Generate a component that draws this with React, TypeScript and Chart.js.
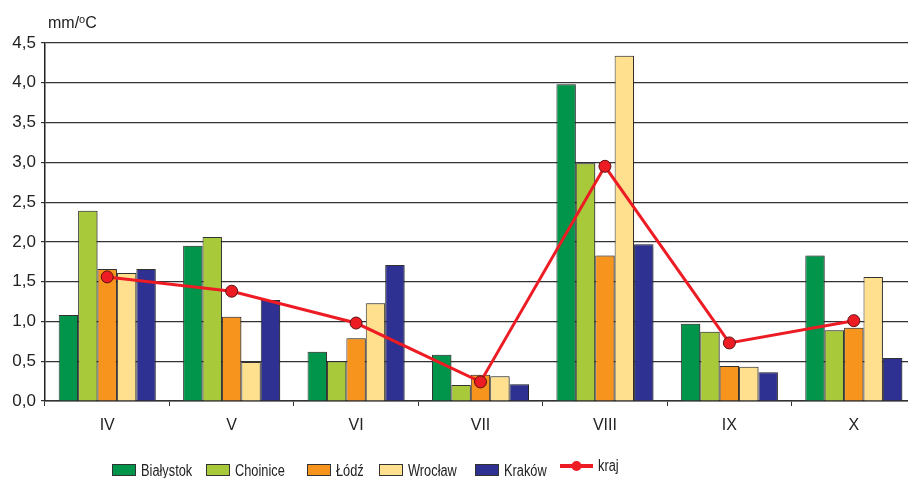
import React, { useEffect, useRef } from "react";
import { Chart, registerables } from "chart.js";

Chart.register(...registerables);

const months = ["IV", "V", "VI", "VII", "VIII", "IX", "X"];
const bialystok = [1.08, 1.95, 0.62, 0.58, 3.98, 0.97, 1.83];
const choinice = [2.39, 2.06, 0.5, 0.2, 2.99, 0.87, 0.89];
const lodz = [1.66, 1.06, 0.79, 0.33, 1.83, 0.44, 0.92];
const wroclaw = [1.61, 0.49, 1.23, 0.31, 4.34, 0.43, 1.56];
const krakow = [1.66, 1.27, 1.71, 0.21, 1.97, 0.36, 0.54];
const kraj = [1.56, 1.38, 0.98, 0.24, 2.95, 0.73, 1.01];
const seriesNames = ["Białystok", "Choinice", "Łódź", "Wrocław", "Kraków", "kraj"];
const yTicks = [0, 0.5, 1, 1.5, 2, 2.5, 3, 3.5, 4, 4.5];

const colors = ["#00954A", "#A8C93A", "#F7941D", "#FFE08F", "#2E3191", "#ED1C24"];

const legendX = [112, 206, 307, 379, 475, 560];

const shadowPlugin = {
  id: "barShadow",
  beforeDatasetDraw(chart: any, args: any) {
    const ds = chart.data.datasets[args.index];
    if (ds.type === "bar") {
      const ctx = chart.ctx;
      ctx.save();
      ctx.shadowColor = "rgba(0,0,0,0.3)";
      ctx.shadowOffsetX = 2;
      ctx.shadowOffsetY = 0;
      ctx.shadowBlur = 1;
    }
  },
  afterDatasetDraw(chart: any, args: any) {
    const ds = chart.data.datasets[args.index];
    if (ds.type === "bar") chart.ctx.restore();
  },
};

const overlayPlugin = {
  id: "overlay",
  afterDraw(chart: any) {
    const ctx = chart.ctx;
    ctx.save();
    // unit title
    ctx.fillStyle = "#222";
    ctx.textBaseline = "alphabetic";
    ctx.textAlign = "left";
    ctx.font = "16px 'Liberation Sans', Arial, sans-serif";
    let x = 48;
    const by = 28;
    ctx.fillText("mm/", x, by);
    x += ctx.measureText("mm/").width;
    ctx.font = "11px 'Liberation Sans', Arial, sans-serif";
    ctx.fillText("o", x, by - 5);
    x += ctx.measureText("o").width;
    ctx.font = "16px 'Liberation Sans', Arial, sans-serif";
    ctx.fillText("C", x, by);

    // legend
    const ly = 470;
    ctx.font = "16px 'Liberation Sans', Arial, sans-serif";
    ctx.textBaseline = "middle";
    const drawNarrow = (t: string, tx: number, ty: number) => {
      ctx.save();
      ctx.translate(tx, ty);
      ctx.scale(0.8, 1);
      ctx.fillText(t, 0, 0);
      ctx.restore();
    };
    seriesNames.forEach((name, i) => {
      const lx = legendX[i];
      if (i < 5) {
        ctx.fillStyle = colors[i];
        ctx.fillRect(lx, ly - 6, 24, 12);
        ctx.strokeStyle = "#333";
        ctx.lineWidth = 1;
        ctx.strokeRect(lx + 0.5, ly - 5.5, 23, 11);
        ctx.fillStyle = "#222";
        drawNarrow(name, lx + 29, ly + 2);
      } else {
        ctx.strokeStyle = colors[5];
        ctx.lineWidth = 4;
        ctx.beginPath();
        ctx.moveTo(lx, ly - 4);
        ctx.lineTo(lx + 33, ly - 4);
        ctx.stroke();
        ctx.fillStyle = colors[5];
        ctx.beginPath();
        ctx.arc(lx + 16.5, ly - 4, 5, 0, Math.PI * 2);
        ctx.fill();
        ctx.fillStyle = "#222";
        drawNarrow(name, lx + 38, ly - 3);
      }
    });
    ctx.restore();
  },
};

export default function App() {
  const ref = useRef<HTMLCanvasElement>(null);
  useEffect(() => {
    document.body.style.margin = "0";
    document.body.style.overflow = "hidden";
    const barData = [bialystok, choinice, lodz, wroclaw, krakow];
    const chart = new Chart(ref.current as HTMLCanvasElement, {
      type: "bar",
      data: {
        labels: months,
        datasets: [
          ...barData.map((d, i) => ({
            type: "bar" as const,
            label: seriesNames[i],
            data: d,
            backgroundColor: colors[i],
            borderColor: "#333",
            borderWidth: 1,
            categoryPercentage: 0.78,
            barPercentage: 1,
            order: 2,
          })),
          {
            type: "line" as const,
            label: seriesNames[5],
            data: kraj,
            borderColor: colors[5],
            backgroundColor: colors[5],
            borderWidth: 3,
            pointRadius: 6,
            pointBackgroundColor: colors[5],
            pointBorderColor: "#5a1010",
            pointBorderWidth: 1,
            order: 0,
          },
        ],
      } as any,
      options: {
        animation: false,
        responsive: false,
        layout: { autoPadding: false, padding: { top: 43, right: 0, left: 0, bottom: 0 } },
        plugins: { legend: { display: false }, tooltip: { enabled: false } },
        scales: {
          x: {
            grid: {
              offset: true,
              drawOnChartArea: false,
              drawTicks: true,
              tickLength: 5,
              color: "#333",
            },
            border: { display: true, color: "#333", width: 1.5 },
            ticks: {
              color: "#222",
              font: { family: "'Liberation Sans', Arial, sans-serif", size: 16 },
              padding: 10,
            },
            afterFit: (s: any) => {
              s.height = 77;
            },
          },
          y: {
            min: 0,
            max: 4.5,
            afterBuildTicks: (s: any) => {
              s.ticks = yTicks.map((v) => ({ value: v }));
            },
            grid: {
              color: "#333",
              lineWidth: 1.2,
              drawTicks: true,
              tickLength: 4,
            },
            border: { display: true, color: "#222", width: 1.5 },
            ticks: {
              color: "#222",
              font: { family: "'Liberation Sans', Arial, sans-serif", size: 17 },
              padding: 5,
              callback: (v: any) => Number(v).toFixed(1).replace(".", ","),
            },
            afterFit: (s: any) => {
              s.width = 45;
            },
          },
        },
      },
      plugins: [shadowPlugin, overlayPlugin],
    });
    return () => chart.destroy();
  }, []);
  return (
    <div style={{ width: 908, height: 478, overflow: "hidden" }}>
      <canvas ref={ref} width={916} height={478} style={{ display: "block" }} />
    </div>
  );
}
